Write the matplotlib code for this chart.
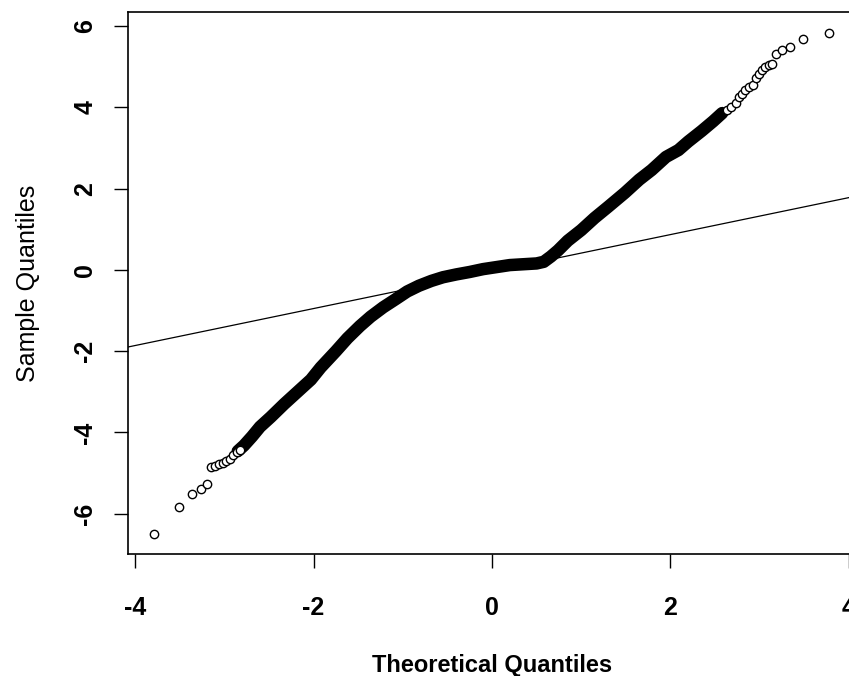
import numpy as np
import matplotlib
matplotlib.use("Agg")
import matplotlib.pyplot as plt

# values (theoretical vs sample quantiles)
band_theo = [-2.85, -2.78, -2.69, -2.60, -2.48, -2.33, -2.18, -2.03, -1.92, -1.75,
             -1.62, -1.48, -1.36, -1.22, -1.08, -0.95, -0.82, -0.68, -0.55, -0.40,
             -0.25, -0.10, 0.05, 0.20, 0.35, 0.50, 0.58, 0.66, 0.74, 0.85,
             1.00, 1.15, 1.30, 1.49, 1.65, 1.79, 1.95, 2.09, 2.20, 2.35,
             2.48, 2.58]
band_samp = [-4.46, -4.32, -4.10, -3.86, -3.62, -3.30, -3.00, -2.70, -2.40, -2.00,
             -1.68, -1.38, -1.15, -0.92, -0.72, -0.53, -0.39, -0.27, -0.18, -0.11,
             -0.05, 0.02, 0.07, 0.12, 0.14, 0.16, 0.20, 0.33, 0.48, 0.72,
             0.98, 1.28, 1.55, 1.90, 2.22, 2.46, 2.78, 2.95, 3.16, 3.42,
             3.66, 3.86]

low_theo = [-3.79, -3.51, -3.36, -3.26, -3.20, -3.15, -3.10, -3.06, -3.02, -2.98,
            -2.94, -2.90, -2.86, -2.82]
low_samp = [-6.51, -5.84, -5.51, -5.38, -5.26, -4.86, -4.82, -4.78, -4.74, -4.70,
            -4.64, -4.56, -4.48, -4.42]

high_theo = [2.63, 2.68, 2.73, 2.77, 2.80, 2.84, 2.88, 2.92, 2.96, 2.99,
             3.03, 3.06, 3.10, 3.14, 3.18, 3.25, 3.34, 3.49, 3.78]
high_samp = [3.93, 4.02, 4.10, 4.25, 4.34, 4.42, 4.50, 4.56, 4.72, 4.83,
             4.92, 5.00, 5.04, 5.08, 5.32, 5.41, 5.49, 5.68, 5.84]

line_intercept = -0.04
line_slope = 0.455

xticks = [-4, -2, 0, 2, 4]
yticks = [-6, -4, -2, 0, 2, 4, 6]

plt.rcParams['font.family'] = ['Liberation Sans', 'DejaVu Sans']

fig = plt.figure(figsize=(8.49, 6.76), dpi=100)
ax = fig.add_axes([128 / 849, 1 - 554 / 676, 728 / 849, 541.7 / 676])

ax.plot(band_theo, band_samp, '-', color='black', lw=9, solid_capstyle='round')
mk = dict(ls='none', marker='o', ms=6, mfc='white', mec='black', mew=1.0)
ax.plot(low_theo, low_samp, **mk)
ax.plot(high_theo, high_samp, **mk)
ax.axline((0, line_intercept), slope=line_slope, color='black', lw=0.9)

ax.set_xlim(-4.08, 4.08)
ax.set_ylim(-6.99, 6.34)
ax.set_xticks(xticks)
ax.set_yticks(yticks)
ax.set_xticklabels([str(t) for t in xticks], fontsize=18, fontweight='bold')
ax.set_yticklabels([str(t) for t in yticks], fontsize=18, fontweight='bold',
                   rotation=90, va='center')
ax.tick_params(axis='x', length=10, width=1, pad=20)
ax.tick_params(axis='y', length=10, width=1, pad=12)
for s in ax.spines.values():
    s.set_linewidth(1.2)

ax.set_xlabel("Theoretical Quantiles", fontsize=17, fontweight='bold', labelpad=25)
ax.set_ylabel("Sample Quantiles", fontsize=18, labelpad=24)

fig.savefig("out.png", dpi=100)
